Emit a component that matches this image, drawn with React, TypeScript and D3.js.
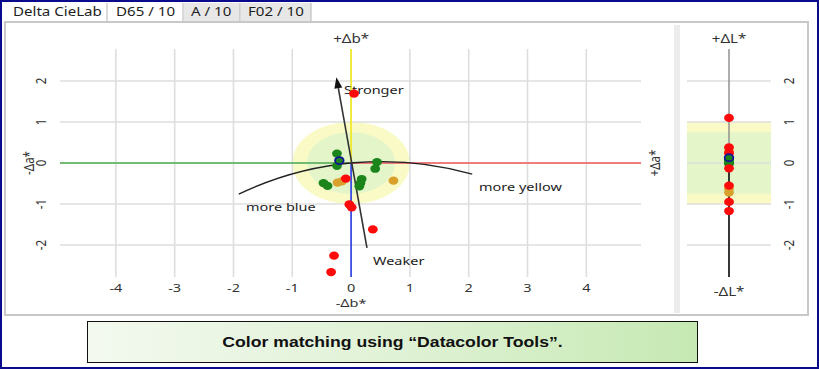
import React from 'react';
import * as d3 from 'd3';

// Delta CieLab colour-difference plot: a*/b* plane on the left, L* strip on the right.

const tabLabels = ['Delta CieLab', 'D65 / 10', 'A / 10', 'F02 / 10'];
const xTicks = [-4, -3, -2, -1, 0, 1, 2, 3, 4];
const yTicks = [-2, -1, 0, 1, 2];

// Per-sample colour differences (horizontal = Δa*, vertical = Δb*, strip = ΔL*)
const deltaA = [
  -0.24, -0.24, 0.44, 0.41, -0.47, -0.4, 0.18, 0.16, 0.14,
  -0.23, -0.16, 0.72,
  -0.09, -0.03, 0.01, 0.37, 0.05, -0.29, -0.34,
  -0.2,
];
const deltaB = [
  0.23, -0.07, 0.02, -0.14, -0.49, -0.56, -0.39, -0.49, -0.57,
  -0.48, -0.45, -0.43,
  -0.38, -1.01, -1.08, -1.62, 1.69, -2.26, -2.66,
  0.06,
];
const deltaL = [
  0.1, 0.02, 0.05, 0.0, 0.06, 0.03, -0.02, 0.08, 0.01,
  0.28, -0.63, -0.72,
  0.38, -0.55, -0.95, -1.17, 1.1, -0.13, 0.24,
  0.13,
];
const status = [
  'pass', 'pass', 'pass', 'pass', 'pass', 'pass', 'pass', 'pass', 'pass',
  'warn', 'warn', 'warn',
  'fail', 'fail', 'fail', 'fail', 'fail', 'fail', 'fail',
  'std',
];

// Tolerance radii (outer / inner acceptance zones)
const toleranceOuter = 1.0;
const toleranceInner = 0.75;

// Chroma direction (tail -> arrow tip) and hue arc (start, through origin, end)
const chromaTail = [0.27, -2.07];
const chromaTip = [-0.25, 2.09];
const hueArcStart = [-1.91, -0.76];
const hueArcEnd = [2.06, -0.27];

const statusColor: Record<string, string> = {
  pass: '#1b851b',
  warn: '#d9a02c',
  fail: '#ff0a0a',
  std: '#1b851b',
};

const FONT = '"Noto Sans", "Open Sans", sans-serif';
// the whole view is drawn with a wide horizontal aspect; glyphs follow it
const SX = 1.26;

function circleThrough(p1: number[], p2: number[], p3: number[]) {
  const [ax, ay] = p1, [bx, by] = p2, [cx, cy] = p3;
  const d = 2 * (ax * (by - cy) + bx * (cy - ay) + cx * (ay - by));
  const ux = ((ax * ax + ay * ay) * (by - cy) + (bx * bx + by * by) * (cy - ay) + (cx * cx + cy * cy) * (ay - by)) / d;
  const uy = ((ax * ax + ay * ay) * (cx - bx) + (bx * bx + by * by) * (ax - cx) + (cx * cx + cy * cy) * (bx - ax)) / d;
  return { x: ux, y: uy, r: Math.hypot(ax - ux, ay - uy) };
}

type LabelProps = {
  x: number;
  y: number;
  size: number;
  anchor?: 'start' | 'middle' | 'end';
  rotate?: boolean;
  fill?: string;
  family?: string;
  weight?: string;
  children: React.ReactNode;
};

function Label({ x, y, size, anchor = 'start', rotate = false, fill = '#333', family = FONT, weight = 'normal', children }: LabelProps) {
  return (
    <text
      transform={`translate(${x},${y}) scale(${SX},1)${rotate ? ' rotate(-90)' : ''}`}
      textAnchor={anchor}
      fontFamily={family}
      fontWeight={weight}
      fontSize={size}
      fill={fill}
    >
      {children}
    </text>
  );
}

export default function App() {
  const W = 819;
  const H = 369;

  const x = d3.scaleLinear().domain([-4.95, 4.93]).range([60, 641]);
  const y = d3.scaleLinear().domain([-2.78, 2.78]).range([277, 49]);
  const [x0, x1] = x.range();
  const [yb, yt] = y.range();
  const ox = x(0);
  const oy = y(0);

  // L* strip
  const lx = 729;
  const lGrid: [number, number] = [687, 771];

  const order = d3.range(deltaA.length);

  // hue arc
  const pA = [x(hueArcStart[0]), y(hueArcStart[1])];
  const pB = [ox, oy];
  const pC = [x(hueArcEnd[0]), y(hueArcEnd[1])];
  const circ = circleThrough(pA, pB, pC);
  const huePath = `M${pA[0]},${pA[1]} A${circ.r},${circ.r} 0 0 1 ${pC[0]},${pC[1]}`;

  // chroma arrow
  const tail = [x(chromaTail[0]), y(chromaTail[1])];
  const tip = [x(chromaTip[0]), y(chromaTip[1])];
  const ang = Math.atan2(tip[1] - tail[1], tip[0] - tail[0]);
  const headLen = 11;
  const headW = 4;
  const hb = [tip[0] - headLen * Math.cos(ang), tip[1] - headLen * Math.sin(ang)];
  const head = [
    tip,
    [hb[0] + headW * Math.sin(ang), hb[1] - headW * Math.cos(ang)],
    [hb[0] - headW * Math.sin(ang), hb[1] + headW * Math.cos(ang)],
  ];

  const ellipse = (r: number, fill: string) => (
    <ellipse cx={ox} cy={oy} rx={x(r) - ox} ry={oy - y(r)} fill={fill} />
  );

  const dot = (i: number, cx: number, cy: number) => {
    const std = status[i] === 'std';
    return (
      <ellipse
        key={i}
        cx={cx}
        cy={cy}
        rx={std ? 4.3 : 4.9}
        ry={std ? 3.5 : 4.1}
        fill={statusColor[status[i]]}
        stroke={std ? '#12129a' : 'none'}
        strokeWidth={std ? 1.8 : 0}
      />
    );
  };

  const tabs = [
    { x: 5, w: 102, bg: 'none', tx: 13 },
    { x: 108, w: 75, bg: '#ffffff', tx: 116 },
    { x: 184, w: 56, bg: '#e7e7e7', tx: 191 },
    { x: 241, w: 70, bg: '#e7e7e7', tx: 248 },
  ];

  return (
    <div style={{ position: 'fixed', left: 0, top: 0 }}>
      <svg width={W} height={H} viewBox={`0 0 ${W} ${H}`} style={{ display: 'block', background: '#fff' }}>
        <defs>
          <linearGradient id="captionFill" x1="0" x2="1" y1="0" y2="0">
            <stop offset="0" stopColor="#f3f9ef" />
            <stop offset="0.5" stopColor="#e0f2d6" />
            <stop offset="1" stopColor="#c6e9b3" />
          </linearGradient>
        </defs>

        {/* tabs */}
        {tabs.map((t, i) => (
          <g key={i}>
            {t.bg !== 'none' && <rect x={t.x} y={3} width={t.w} height={19} fill={t.bg} />}
            <line x1={t.x + t.w} x2={t.x + t.w} y1={3} y2={22} stroke="#b4b4b4" strokeWidth={1} />
            <Label x={t.tx} y={16} size={12} fill="#1e1e1e">
              {tabLabels[i]}
            </Label>
          </g>
        ))}

        {/* panel frame */}
        <rect x={5} y={22} width={803} height={293} fill="#fff" stroke="#c8c8c8" strokeWidth={2} />
        <rect x={674} y={25} width={6} height={288} fill="#ececec" />

        {/* tolerance zones */}
        {ellipse(toleranceOuter, '#fafac6')}
        {ellipse(toleranceInner, '#e3f5c9')}

        {/* grid */}
        {xTicks.map((t) => (
          <line key={`gx${t}`} x1={x(t)} x2={x(t)} y1={yt} y2={yb} stroke="#dedede" strokeWidth={1.6} />
        ))}
        {yTicks.map((t) => (
          <line key={`gy${t}`} x1={x0} x2={x1} y1={y(t)} y2={y(t)} stroke="#dedede" strokeWidth={1.6} />
        ))}

        {/* colour axes */}
        <line x1={x0} x2={ox} y1={oy} y2={oy} stroke="#4cae4c" strokeWidth={1.6} />
        <line x1={ox} x2={x1} y1={oy} y2={oy} stroke="#f05a5a" strokeWidth={1.6} />
        <line x1={ox} x2={ox} y1={yt} y2={oy} stroke="#f2ec1a" strokeWidth={1.6} />
        <line x1={ox} x2={ox} y1={oy} y2={yb} stroke="#2a3ee6" strokeWidth={1.6} />

        {/* hue arc and chroma arrow */}
        <path d={huePath} fill="none" stroke="#222" strokeWidth={1.3} />
        <line x1={tail[0]} y1={tail[1]} x2={hb[0]} y2={hb[1]} stroke="#333" strokeWidth={1.6} />
        <polygon points={head.map((p) => p.join(',')).join(' ')} fill="#111" />

        {/* tick labels */}
        {xTicks.map((t) => (
          <Label key={`tx${t}`} x={x(t)} y={291.5} size={11.5} anchor="middle">
            {String(t)}
          </Label>
        ))}
        {yTicks.map((t) => (
          <Label key={`ty${t}`} x={46} y={y(t)} size={11.5} anchor="middle" rotate>
            {String(t)}
          </Label>
        ))}

        {/* axis names */}
        <Label x={ox} y={43} size={12} anchor="middle">+Δb*</Label>
        <Label x={ox} y={306.5} size={11.5} anchor="middle">-Δb*</Label>
        <Label x={34} y={oy} size={11.5} anchor="middle" rotate>-Δa*</Label>
        <Label x={660} y={oy} size={11.5} anchor="middle" rotate>+Δa*</Label>

        {/* direction captions */}
        <Label x={344} y={94} size={11.5} fill="#222">Stronger</Label>
        <Label x={373} y={265} size={11.5} fill="#222">Weaker</Label>
        <Label x={246} y={211} size={11.5} fill="#222">more blue</Label>
        <Label x={479} y={191} size={11.5} fill="#222">more yellow</Label>

        {/* samples in the a-b plane */}
        {order.map((i) => dot(i, x(deltaA[i]), y(deltaB[i])))}

        {/* L* strip */}
        <rect x={lGrid[0]} y={y(toleranceOuter)} width={lGrid[1] - lGrid[0]} height={y(-toleranceOuter) - y(toleranceOuter)} fill="#fafac6" />
        <rect x={lGrid[0]} y={y(toleranceInner)} width={lGrid[1] - lGrid[0]} height={y(-toleranceInner) - y(toleranceInner)} fill="#e3f5c9" />
        {yTicks.map((t) => (
          <line key={`ly${t}`} x1={lGrid[0]} x2={lGrid[1]} y1={y(t)} y2={y(t)} stroke="#dedede" strokeWidth={1.6} />
        ))}
        <line x1={lx} x2={lx} y1={yt} y2={oy} stroke="#8a8a8a" strokeWidth={1.4} />
        <line x1={lx} x2={lx} y1={oy} y2={yb} stroke="#222" strokeWidth={1.8} />
        {yTicks.map((t) => (
          <Label key={`lt${t}`} x={794} y={y(t)} size={11.5} anchor="middle" rotate>
            {String(t)}
          </Label>
        ))}
        <Label x={lx} y={43} size={12} anchor="middle">+ΔL*</Label>
        <Label x={lx} y={296} size={12} anchor="middle">-ΔL*</Label>
        {order.map((i) => dot(i, lx, y(deltaL[i])))}

        {/* caption */}
        <rect x={87.5} y={321.5} width={610} height={41} fill="url(#captionFill)" stroke="#111" strokeWidth={1} />
        <Label
          x={392.5}
          y={347}
          size={14}
          anchor="middle"
          family='"Liberation Sans", Arial, sans-serif'
          weight="bold"
          fill="#111"
        >
          Color matching using “Datacolor Tools”.
        </Label>

        {/* outer frame */}
        <rect x={1} y={1} width={W - 2} height={H - 2} fill="none" stroke="#0a0a8c" strokeWidth={2} />
      </svg>
    </div>
  );
}
